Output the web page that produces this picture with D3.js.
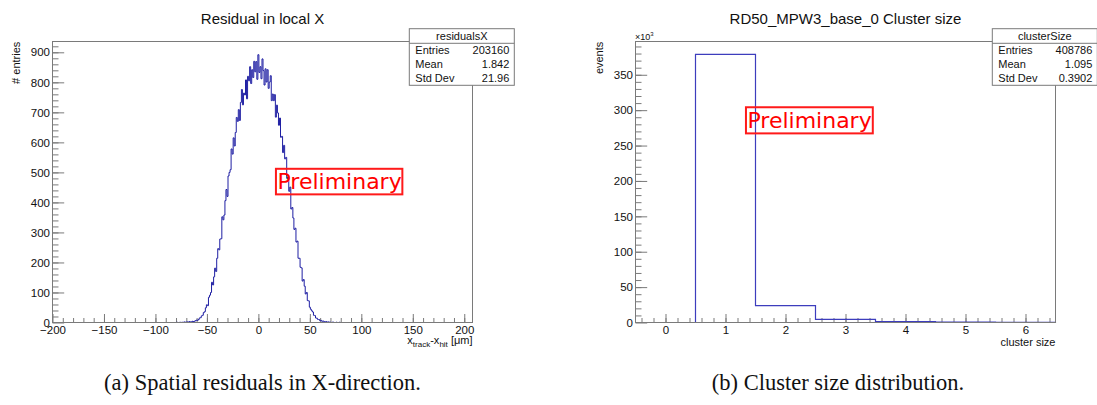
<!DOCTYPE html>
<html>
<head>
<meta charset="utf-8">
<script src="https://cdn.jsdelivr.net/npm/d3@7/dist/d3.min.js"></script>
<style>
  body { margin: 0; background: #fff; }
  text { font-family: "Liberation Sans", Arial, sans-serif; fill: #111; }
  .frame { fill: none; stroke: #7a7a7a; stroke-width: 1; }
  .axis path { display: none; }
  .axis line { stroke: #7a7a7a; }
  .axis text { font-size: 11.5px; fill: #111; }
</style>
</head>
<body>
<svg id="chart" width="1097" height="405"></svg>
<script>
// ---- residuals in local X (1 um bins, first bin centred at -80) ----
const resFirstBin = -80;
const resCounts = [
  0, 1, 0, 0, 1, 0, 1, 0, 2, 1, 1, 2, 1, 3, 2, 2, 4, 3, 4, 6,
  8, 7, 10, 15, 16, 22, 24, 33, 36, 49,
  59, 56, 84, 91, 100, 134, 125, 152, 181, 170,
  214, 246, 242, 278, 279, 352, 342, 358, 406, 443,
  420, 488, 500, 509, 578, 561, 615, 588, 633, 683,
  670, 709, 673, 733, 776, 725, 764, 758, 808, 745,
  820, 805, 852, 796, 842, 816, 870, 835, 869, 810,
  892,
  833, 852, 812, 878, 839, 791, 845, 801, 842, 780,
  801, 822, 739, 761, 739, 759, 684, 724, 698, 657,
  681, 617, 620, 566, 590, 545, 550, 480, 484, 437,
  451, 378, 383, 348, 310, 314, 268, 271, 214, 214,
  184, 182, 138, 143, 121, 95, 100, 73, 72, 51,
  44, 39, 35, 24, 23, 15, 14, 10, 10, 6, 7, 4, 5, 3, 2, 3, 1, 2, 1, 1,
  0, 1, 1, 0, 0, 1, 0, 0, 1, 0
];
const resXDomain = [-200, 208];
const resYDomain = [0, 936];
const resXTicks = [-200, -150, -100, -50, 0, 50, 100, 150, 200];
const resYTicks = [0, 100, 200, 300, 400, 500, 600, 700, 800, 900];
const resStats = [["Entries", "203160"], ["Mean", "1.842"], ["Std Dev", "21.96"]];

// ---- cluster size (counts in units of 10^3) ----
const csBins = [0, 1, 2, 3, 4, 5, 6];
const csCounts = [0, 378.8, 23.8, 4.3, 1.4, 0.4, 0.1];
const csXDomain = [-0.5, 6.5];
const csYDomain = [0, 397];
const csXTicks = [0, 1, 2, 3, 4, 5, 6];
const csYTicks = [0, 50, 100, 150, 200, 250, 300, 350];
const csStats = [["Entries", "408786"], ["Mean", "1.095"], ["Std Dev", "0.3902"]];

const svg = d3.select("#chart");
const fmt = d => String(d).replace("-", "\u2212");

function panel(o) {
  const x = d3.scaleLinear().domain(o.xDomain).range([o.left, o.right]);
  const y = d3.scaleLinear().domain(o.yDomain).range([322.5, 41.5]);
  const g = svg.append("g");

  // minor + major ticks
  g.append("g").attr("class", "axis").attr("transform", "translate(0,322.5)")
    .call(d3.axisBottom(x).tickValues(o.xMinor).tickSize(-4.5).tickFormat(""));
  g.append("g").attr("class", "axis").attr("transform", "translate(0,322.5)")
    .call(d3.axisBottom(x).tickValues(o.xTicks).tickSize(-8.5).tickPadding(3).tickFormat(fmt));
  g.append("g").attr("class", "axis").attr("transform", `translate(${o.left},0)`)
    .call(d3.axisLeft(y).tickValues(o.yMinor).tickSize(-6).tickFormat(""));
  g.append("g").attr("class", "axis").attr("transform", `translate(${o.left},0)`)
    .call(d3.axisLeft(y).tickValues(o.yTicks).tickSize(-11.7).tickPadding(2.5).tickFormat(fmt));

  // histogram outline
  const line = d3.line().x(d => x(d[0])).y(d => y(d[1])).curve(d3.curveStepAfter);
  g.append("path").attr("d", line(o.steps))
    .attr("fill", "none").attr("stroke", o.color).attr("stroke-width", o.width);

  // frame
  g.append("rect").attr("class", "frame")
    .attr("x", o.left).attr("y", 41.5)
    .attr("width", o.right - o.left).attr("height", 281);

  // title
  g.append("text").attr("x", (o.left + o.right) / 2).attr("y", 23.5)
    .attr("text-anchor", "middle").style("font-size", "15px").text(o.title);

  // y title
  g.append("text").attr("transform", `translate(${o.yTitleX},41.7) rotate(-90)`)
    .attr("text-anchor", "end").style("font-size", "11px").text(o.yTitle);

  // stats box
  const bx = o.right - 63.2, bw = 105, by = 28.7;
  const sb = g.append("g");
  sb.append("rect").attr("x", bx).attr("y", by).attr("width", bw).attr("height", 56.6)
    .attr("fill", "#fff").attr("stroke", "#7a7a7a");
  sb.append("line").attr("x1", bx).attr("x2", bx + bw).attr("y1", by + 14.6).attr("y2", by + 14.6)
    .attr("stroke", "#7a7a7a");
  sb.append("text").attr("x", bx + bw / 2).attr("y", by + 11.6).attr("text-anchor", "middle")
    .style("font-size", "11px").text(o.statsName);
  o.stats.forEach((s, i) => {
    const ty = by + 25.5 + i * 14;
    sb.append("text").attr("x", bx + 6).attr("y", ty).style("font-size", "11px").text(s[0]);
    sb.append("text").attr("x", bx + bw - 5).attr("y", ty).attr("text-anchor", "end")
      .style("font-size", "11px").text(s[1]);
  });

  // "Preliminary" label (frame-relative position)
  const pw = o.right - o.left;
  const px0 = o.left + o.prelim[0] * pw, px1 = o.left + o.prelim[1] * pw;
  const py0 = 41.5 + o.prelim[2] * 281, py1 = 41.5 + o.prelim[3] * 281;
  g.append("rect").attr("x", px0).attr("y", py0).attr("width", px1 - px0).attr("height", py1 - py0)
    .attr("fill", "none").attr("stroke", "#ff1a1a").attr("stroke-width", 2);
  g.append("text").attr("x", px0 + 1.5).attr("y", py1 - 5.5)
    .style("font-family", "'DejaVu Sans', sans-serif").style("font-size", "22px")
    .style("fill", "#ff0000").text("Preliminary");

  // caption
  g.append("text").attr("x", o.captionX).attr("y", 390)
    .attr("text-anchor", "middle")
    .style("font-family", "'Liberation Serif', 'Times New Roman', serif")
    .style("font-size", "22.5px").text(o.caption);

  return { g, x, y };
}

// residual steps
const resSteps = [[resXDomain[0], 0]];
resCounts.forEach((c, i) => resSteps.push([resFirstBin + i - 0.5, c]));
resSteps.push([resFirstBin + resCounts.length - 0.5, 0]);
resSteps.push([resXDomain[1], 0]);

const left = panel({
  left: 52.5, right: 472.5,
  xDomain: resXDomain, yDomain: resYDomain,
  xTicks: resXTicks, yTicks: resYTicks,
  xMinor: d3.range(-190, 201, 10), yMinor: d3.range(20, 936, 20),
  steps: resSteps, color: "#1f1fa3", width: 1,
  title: "Residual in local X", yTitle: "# entries", yTitleX: 19.5,
  statsName: "residualsX", stats: resStats,
  prelim: [0.532, 0.833, 0.453, 0.544],
  caption: "(a) Spatial residuals in X-direction.", captionX: 262.5
});

const xl = left.g.append("text").attr("x", 472.5).attr("y", 343.5)
  .attr("text-anchor", "end").style("font-size", "11px");
xl.append("tspan").text("x");
xl.append("tspan").attr("dy", 3.5).style("font-size", "8px").text("track");
xl.append("tspan").attr("dy", -3.5).text("-x");
xl.append("tspan").attr("dy", 3.5).style("font-size", "8px").text("hit");
xl.append("tspan").attr("dy", -3.5).text("  [\u03bcm]");

// cluster size steps
const csSteps = csBins.map((b, i) => [b - 0.5, csCounts[i]]);
csSteps.push([csBins[csBins.length - 1] + 0.5, 0]);

const right = panel({
  left: 635.5, right: 1055.5,
  xDomain: csXDomain, yDomain: csYDomain,
  xTicks: csXTicks, yTicks: csYTicks,
  xMinor: d3.range(-0.4, 6.45, 0.2), yMinor: d3.range(10, 397, 10),
  steps: csSteps, color: "#3d3dbd", width: 1.2,
  title: "RD50_MPW3_base_0 Cluster size", yTitle: "events", yTitleX: 602.5,
  statsName: "clusterSize", stats: csStats,
  prelim: [0.263, 0.565, 0.234, 0.327],
  caption: "(b) Cluster size distribution.", captionX: 838
});

right.g.append("text").attr("x", 1055.5).attr("y", 346.3)
  .attr("text-anchor", "end").style("font-size", "11px").text("cluster size");

const exp = right.g.append("text").attr("x", 635).attr("y", 39.5).style("font-size", "9px");
exp.append("tspan").text("\u00d710");
exp.append("tspan").attr("dy", -4).style("font-size", "6px").text("3");
</script>
</body>
</html>
